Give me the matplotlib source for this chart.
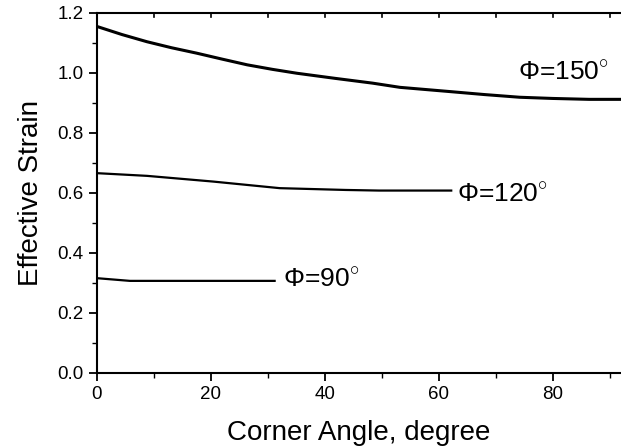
import matplotlib
matplotlib.use("Agg")
import matplotlib.pyplot as plt
from matplotlib.ticker import MultipleLocator

plt.rcParams['font.family'] = ['Liberation Sans', 'DejaVu Sans']
plt.rcParams['mathtext.fontset'] = 'custom'
plt.rcParams['mathtext.rm'] = 'Liberation Sans'

# Data
x150 = [0, 4.4, 8.8, 13.1, 17.5, 22, 26.4, 30.8, 35.1, 41.8, 48.4, 53.2, 61.9, 68, 74.2, 80, 86.4, 92]
y150 = [1.155, 1.128, 1.104, 1.084, 1.066, 1.046, 1.027, 1.012, 0.999, 0.982, 0.966, 0.952, 0.938, 0.928, 0.919, 0.915, 0.912, 0.912]

x120 = [0, 8.8, 20.4, 32.1, 43.7, 49.5, 62.2]
y120 = [0.666, 0.657, 0.638, 0.616, 0.610, 0.608, 0.608]

x90 = [0, 5.8, 15, 31.2]
y90 = [0.316, 0.307, 0.307, 0.307]

labels = ["Φ=150$^{\\circ}$", "Φ=120$^{\\circ}$", "Φ=90$^{\\circ}$"]
label_pos = [(74.0, 1.0), (63.3, 0.595), (32.6, 0.31)]

xticks = [0, 20, 40, 60, 80]
yticks = [0.0, 0.2, 0.4, 0.6, 0.8, 1.0, 1.2]

fig = plt.figure(figsize=(6.21, 4.46), dpi=100)
ax = fig.add_axes([0.156, 0.1637, 1.0 - 0.156, 0.971 - 0.1637])

ax.plot(x150, y150, color='black', lw=2.2)
ax.plot(x120, y120, color='black', lw=1.6)
ax.plot(x90, y90, color='black', lw=1.6)

for t, (tx, ty) in zip(labels, label_pos):
    ax.text(tx, ty, t, fontsize=19, va='center', ha='left', color='black')

ax.set_xlim(0, 92)
ax.set_ylim(0, 1.2)
ax.set_xticks(xticks)
ax.set_xticklabels([str(v) for v in xticks])
ax.set_yticks(yticks)
ax.set_yticklabels([f"{v:.1f}" for v in yticks])
ax.xaxis.set_minor_locator(MultipleLocator(10))
ax.yaxis.set_minor_locator(MultipleLocator(0.1))

ax.tick_params(which='major', direction='out', length=6, width=1.3, labelsize=13.5, top=False, right=False)
ax.tick_params(which='minor', direction='out', length=3.5, width=1.0, top=False, right=False)

for s in ['left', 'bottom', 'top']:
    ax.spines[s].set_linewidth(1.5)
ax.spines['right'].set_visible(False)

# inward ticks on top axis
for xv in range(10, 92, 10):
    ax.plot([xv, xv], [1.2, 1.185], color='black', lw=1.2, clip_on=False)

ax.set_xlabel("Corner Angle, degree", fontsize=20, labelpad=12)
ax.set_ylabel("Effective Strain", fontsize=20, labelpad=10)

fig.savefig("out.png", dpi=100)
